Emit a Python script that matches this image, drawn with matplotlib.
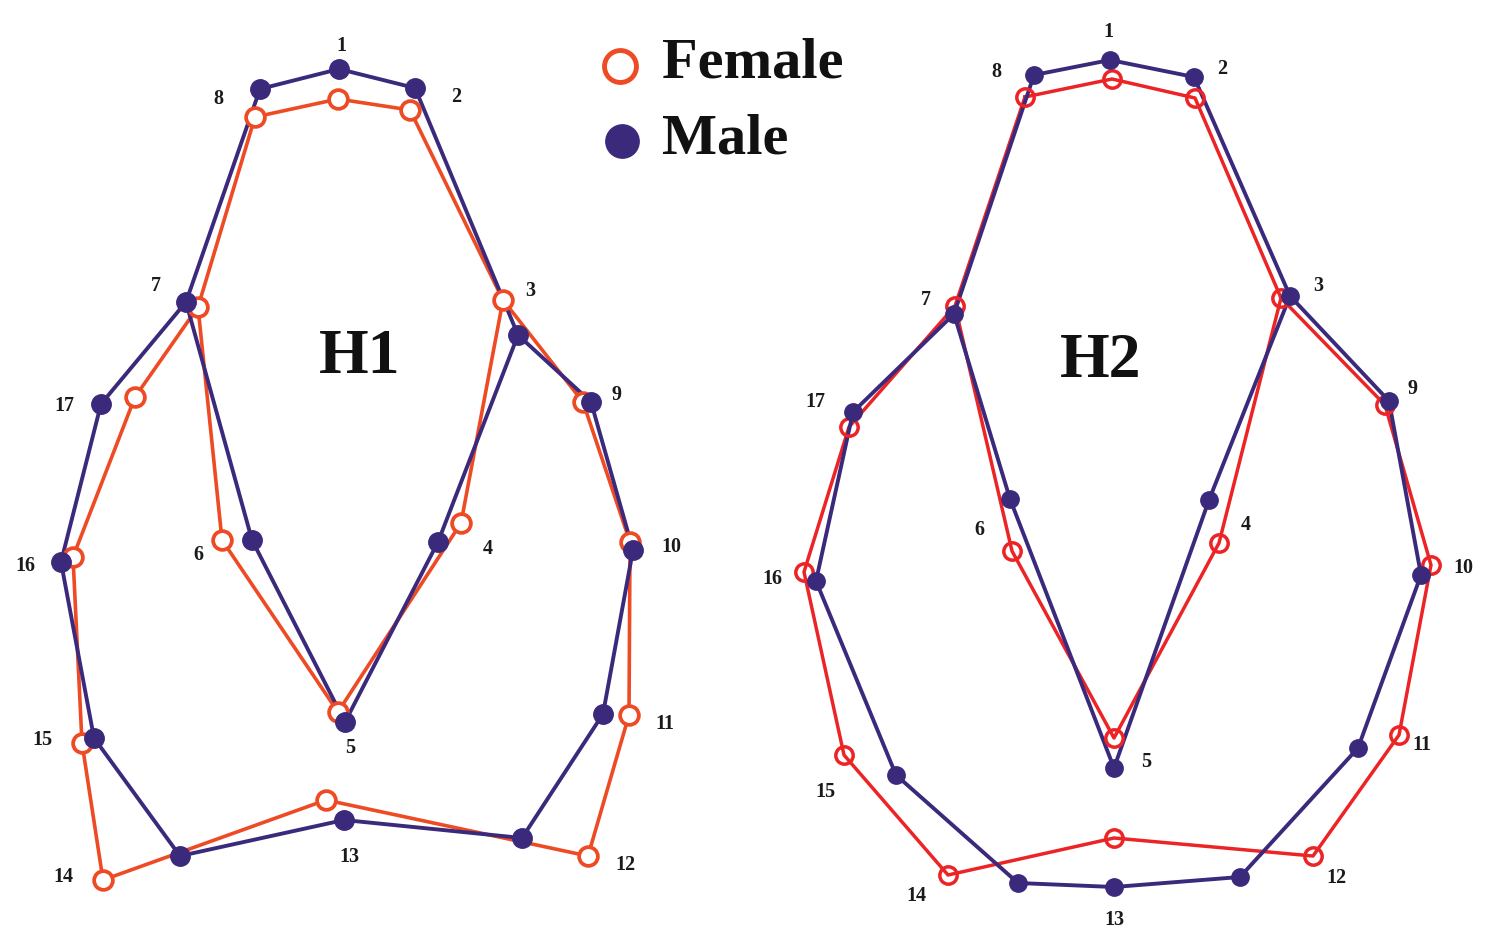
import matplotlib.pyplot as plt

# landmark positions (image pixels, y downwards), landmarks 1..17
h1_female_x = [338, 410, 503, 461, 338, 222, 198, 255, 583, 630, 629, 588, 326, 103, 82, 73, 135]
h1_female_y = [99, 110, 300, 523, 712, 540, 307, 117, 402, 542, 715, 856, 800, 880, 743, 557, 397]
h1_male_x = [339, 415, 518, 438, 345, 252, 186, 260, 591, 633, 603, 522, 344, 180, 94, 61, 101]
h1_male_y = [69, 88, 335, 542, 722, 540, 302, 89, 402, 550, 714, 838, 820, 856, 738, 562, 404]

h2_female_x = [1112, 1195, 1281, 1219, 1114, 1012, 955, 1025, 1385, 1431, 1399, 1313, 1114, 948, 844, 804, 849]
h2_female_y = [79, 98, 298, 543, 738, 551, 306, 97, 405, 565, 735, 856, 838, 875, 755, 572, 427]
h2_male_x = [1110, 1194, 1290, 1209, 1114, 1010, 954, 1034, 1389, 1421, 1358, 1240, 1114, 1018, 896, 816, 853]
h2_male_y = [60, 77, 296, 500, 768, 499, 314, 75, 401, 575, 748, 877, 887, 883, 775, 581, 412]

# number label positions
h1_label_x = [341, 456, 530, 488, 350, 198, 156, 218, 617, 671, 665, 625, 349, 63, 42, 25, 64]
h1_label_y = [46, 97, 291, 549, 748, 555, 286, 99, 395, 547, 724, 865, 857, 877, 740, 566, 406]
h2_label_x = [1108, 1222, 1318, 1246, 1146, 979, 926, 996, 1412, 1463, 1422, 1336, 1114, 916, 825, 772, 815]
h2_label_y = [32, 69, 286, 525, 762, 530, 300, 72, 389, 568, 745, 878, 920, 896, 792, 579, 402]

# drawing order of the outline (1-based landmark numbers)
inner = [8, 1, 2, 3, 4, 5, 6, 7, 8]
outer = [3, 9, 10, 11, 12, 13, 14, 15, 16, 17, 7]

male_col = '#3b2a7c'
h1_fem_col = '#ee4a24'
h2_fem_col = '#ec2426'

serif = ['Liberation Serif', 'DejaVu Serif']

fig = plt.figure(figsize=(14.88, 9.52), dpi=100)
ax = fig.add_axes([0, 0, 1, 1])
ax.set_xlim(0, 1488)
ax.set_ylim(952, 0)
ax.axis('off')


def draw_shape(xs, ys, color, lw, z):
    for seq in (inner, outer):
        ax.plot([xs[i - 1] for i in seq], [ys[i - 1] for i in seq], color=color, lw=lw, zorder=z)


# H1
draw_shape(h1_female_x, h1_female_y, h1_fem_col, 2.6, 2)
draw_shape(h1_male_x, h1_male_y, male_col, 2.8, 3)
ax.plot(h1_female_x, h1_female_y, 'o', ms=13.5, mfc='white', mec=h1_fem_col, mew=2.7, ls='none', zorder=4)
ax.plot(h1_male_x, h1_male_y, 'o', ms=14, color=male_col, ls='none', zorder=5)

# H2
draw_shape(h2_female_x, h2_female_y, h2_fem_col, 2.5, 2)
draw_shape(h2_male_x, h2_male_y, male_col, 2.8, 3)
ax.plot(h2_female_x, h2_female_y, 'o', ms=12.5, mfc='none', mec=h2_fem_col, mew=2.5, ls='none', zorder=4)
ax.plot(h2_male_x, h2_male_y, 'o', ms=12.5, color=male_col, ls='none', zorder=5)

for i in range(17):
    ax.text(h1_label_x[i], h1_label_y[i], str(i + 1), family=serif, fontsize=14.5, fontweight='bold',
            ha='center', va='center', color='#1a1a1a')
    ax.text(h2_label_x[i], h2_label_y[i], str(i + 1), family=serif, fontsize=14.5, fontweight='bold',
            ha='center', va='center', color='#1a1a1a')

ax.text(360, 358, 'H1', family=serif, fontsize=46, fontweight='bold', ha='center', va='center', color='#111111')
ax.text(1101, 362, 'H2', family=serif, fontsize=46, fontweight='bold', ha='center', va='center', color='#111111')

# legend
ax.plot([620], [66], 'o', ms=23, mfc='white', mec=h1_fem_col, mew=3.5, zorder=6)
ax.plot([622], [141], 'o', ms=24, color=male_col, zorder=6)
ax.text(662, 64, 'Female', family=serif, fontsize=42, fontweight='bold', ha='left', va='center', color='#111111')
ax.text(662, 139, 'Male', family=serif, fontsize=42, fontweight='bold', ha='left', va='center', color='#111111')

fig.savefig('out.png', dpi=100)
